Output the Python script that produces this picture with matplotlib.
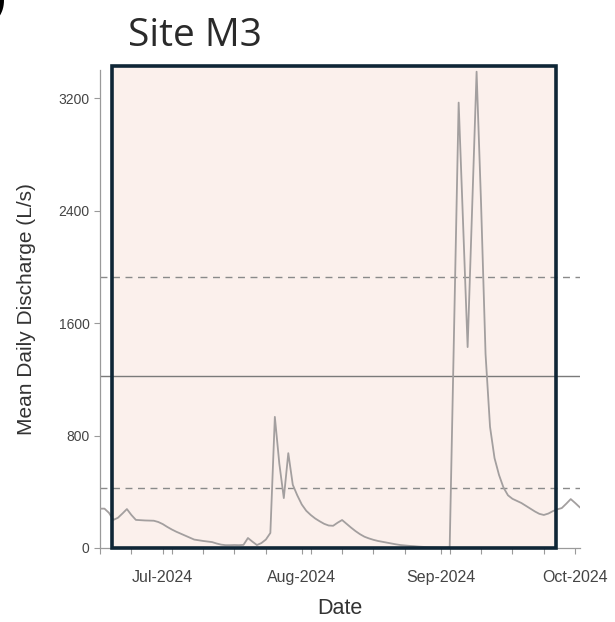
import matplotlib
matplotlib.use('Agg')
import matplotlib.pyplot as plt
import matplotlib.dates as mdates
from matplotlib.patches import Rectangle
import pandas as pd

# daily mean discharge at site M3, 17 Jun - 2 Oct 2024 (L/s)
start_date = '2024-06-17'
discharge = [
    280, 280, 250, 200, 215, 245, 277, 235, 200, 198, 196, 195, 194, 185,
    170, 150, 132, 116, 102, 88, 74, 60, 55, 50, 46, 42, 32, 24, 20, 20,
    21, 20, 22, 71, 45, 21, 35, 60, 107, 933, 600, 355, 675, 450, 375,
    310, 265, 235, 210, 190, 172, 160, 158, 180, 199, 172, 145, 120, 98, 80,
    68, 58, 50, 44, 38, 32, 26, 21, 18, 15, 13, 10, 8, 6, 5, 4,
    3, 2, 5, 1590, 3170, 2300, 1430, 2410, 3390, 2450, 1380, 862, 640, 520,
    430, 375, 350, 335, 320, 300, 280, 260, 243, 235, 245, 262, 275, 284, 315, 348,
    320, 290,
]
dates = pd.date_range(start_date, periods=len(discharge), freq='D')

# reference levels
upper_q = 1930
mean_q = 1225
lower_q = 425

y_ticks = [0, 800, 1600, 2400, 3200]

plt.rcParams['font.family'] = ['Liberation Sans', 'DejaVu Sans']

fig = plt.figure(figsize=(6.15, 6.22), dpi=100)
ax = fig.add_axes([0.1626, 0.119, 0.780, 0.768])
ax.patch.set_alpha(0)

# highlight box behind the axes
fig.patches.append(Rectangle((0.182, 0.119), 0.722, 0.775, transform=fig.transFigure,
                             facecolor='#fbf0ec', edgecolor='none', zorder=-1))

ax.plot(dates, discharge, color='#a39f9f', lw=1.3, zorder=3)
ax.axhline(upper_q, color='#8a8a8a', lw=1.0, ls=(0, (5, 4)), zorder=2)
ax.axhline(mean_q, color='#7a7a7a', lw=1.0, zorder=2)
ax.axhline(lower_q, color='#8a8a8a', lw=1.0, ls=(0, (5, 4)), zorder=2)

ax.set_xlim(dates[0], dates[-1])
ax.set_ylim(0, 3400)
ax.set_yticks(y_ticks)
ax.xaxis.set_major_locator(mdates.MonthLocator())
ax.xaxis.set_major_formatter(mdates.DateFormatter('%b-%Y'))
ax.xaxis.set_minor_locator(mdates.DayLocator(bymonthday=[3, 10, 17, 24]))

for s in ['top', 'right']:
    ax.spines[s].set_visible(False)
for s in ['left', 'bottom']:
    ax.spines[s].set_color('#9a9a9a')
    ax.spines[s].set_linewidth(0.9)
ax.tick_params(axis='both', which='both', color='#9a9a9a', length=4, width=0.8,
               labelcolor='#444444')
ax.tick_params(axis='y', labelsize=10)
ax.tick_params(axis='x', which='major', labelsize=11.5, pad=12)

ax.set_xlabel('Date', fontsize=15.5, color='#333333', labelpad=9)
ax.set_ylabel('Mean Daily Discharge (L/s)', fontsize=15, color='#333333', labelpad=16)

# dark outline of the highlight box
fig.patches.append(Rectangle((0.182, 0.119), 0.722, 0.775, transform=fig.transFigure,
                             facecolor='none', edgecolor='#0f2636', lw=2.6, zorder=10))

fig.text(0.208, 0.926, 'Site M3', fontsize=28, family=['Open Sans', 'DejaVu Sans'],
         color='#2a2a2a', va='baseline')
fig.text(-0.012, 0.984, ')', fontsize=28, fontweight='bold', va='baseline')

plt.savefig('out.png', dpi=100)
